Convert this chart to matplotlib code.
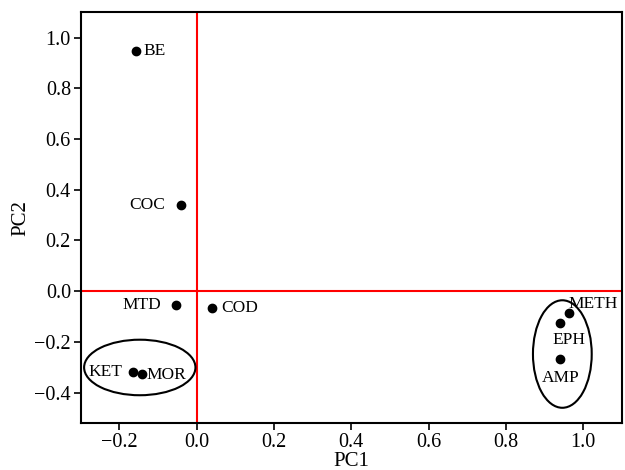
import matplotlib
matplotlib.use("Agg")
import matplotlib.pyplot as plt
from matplotlib.patches import Ellipse

plt.rcParams['font.family'] = ['Liberation Serif', 'DejaVu Serif']

labels = ["BE", "COC", "MTD", "COD", "KET", "MOR", "METH", "EPH", "AMP"]
pc1 = [-0.157, -0.041, -0.054, 0.039, -0.164, -0.142, 0.962, 0.941, 0.941]
pc2 = [0.948, 0.341, -0.056, -0.067, -0.319, -0.328, -0.087, -0.126, -0.269]

# label offsets (pixels) and alignment
offsets = {
    "BE": (8, 0, "left"), "COC": (-16, 0, "right"), "MTD": (-15, 0, "right"),
    "COD": (10, 0, "left"), "KET": (-11, 0, "right"), "MOR": (5, -1, "left"),
    "METH": (0, 9, "left"), "EPH": (9, -17, "center"), "AMP": (0, -19, "center"),
}

xticks = [-0.2, 0.0, 0.2, 0.4, 0.6, 0.8, 1.0]
yticks = [-0.4, -0.2, 0.0, 0.2, 0.4, 0.6, 0.8, 1.0]

fig = plt.figure(figsize=(6.25, 4.7), dpi=100)
ax = fig.add_axes([0.129, 0.1, 0.866, 0.874])

ax.axhline(0, color='red', lw=1.5, zorder=1)
ax.axvline(0, color='red', lw=1.5, zorder=1)

ax.plot(pc1, pc2, 'o', color='black', markersize=6, zorder=3)
for lab, x, y in zip(labels, pc1, pc2):
    dx, dy, ha = offsets[lab]
    ax.annotate(lab, (x, y), xytext=(dx, dy), textcoords='offset pixels',
                ha=ha, va='center', fontsize=12.5, color='black')

ax.add_patch(Ellipse((-0.147, -0.301), 0.288, 0.219, fill=False, ec='black', lw=1.5, zorder=2))
ax.add_patch(Ellipse((0.946, -0.248), 0.152, 0.424, fill=False, ec='black', lw=1.5, zorder=2))

ax.set_xlim(-0.3, 1.1)
ax.set_ylim(-0.52, 1.1)
ax.set_xticks(xticks)
ax.set_yticks(yticks)
ax.set_xticklabels([f"{t:.1f}".replace("-", "\u2212") for t in xticks])
ax.set_yticklabels([f"{t:.1f}".replace("-", "\u2212") for t in yticks])
ax.tick_params(direction='out', length=5, width=1.2, labelsize=14.5, pad=2, top=False, right=False)
for s in ax.spines.values():
    s.set_linewidth(1.5)
ax.set_xlabel("PC1", fontsize=15, labelpad=0)
ax.set_ylabel("PC2", fontsize=15, labelpad=3)

fig.savefig("out.png", dpi=100)
